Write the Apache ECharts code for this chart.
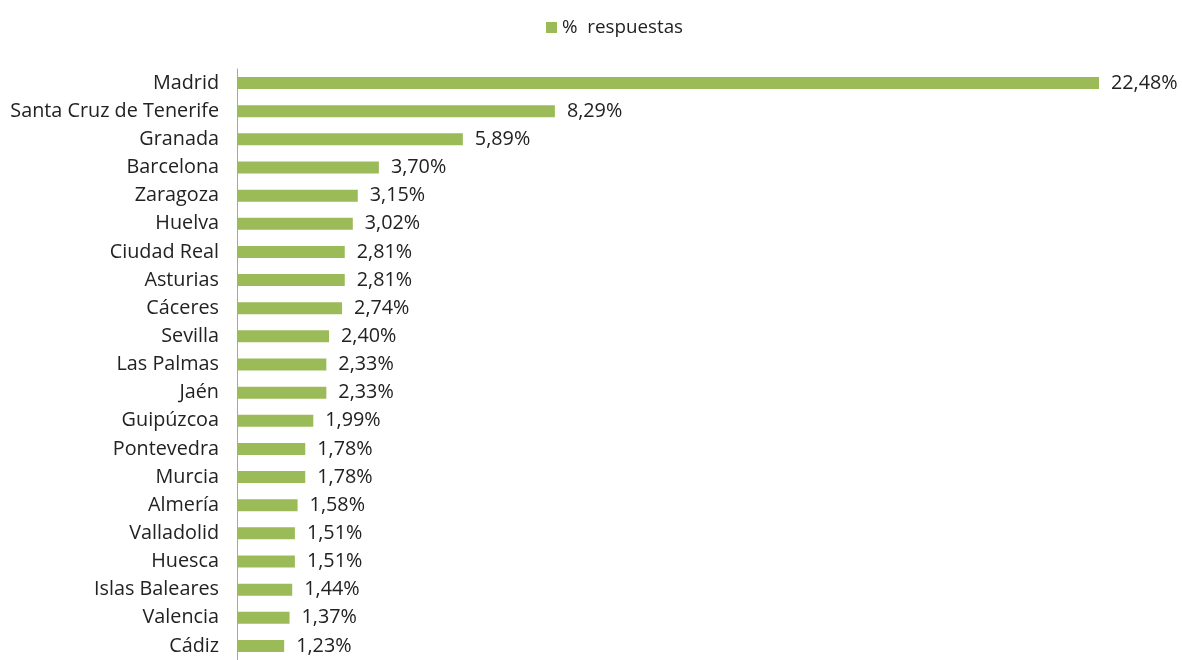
<!DOCTYPE html>
<html>
<head>
<meta charset="utf-8">
<script src="https://cdn.jsdelivr.net/npm/echarts@6/dist/echarts.min.js"></script>
<style>
  html, body { margin: 0; padding: 0; background: #fff; }
  #main { width: 1182px; height: 660px; }
</style>
</head>
<body>
<div id="main"></div>
<script>
// provincias, de arriba a abajo
const provincias = ['Madrid', 'Santa Cruz de Tenerife', 'Granada', 'Barcelona', 'Zaragoza', 'Huelva',
  'Ciudad Real', 'Asturias', 'Cáceres', 'Sevilla', 'Las Palmas', 'Jaén', 'Guipúzcoa', 'Pontevedra',
  'Murcia', 'Almería', 'Valladolid', 'Huesca', 'Islas Baleares', 'Valencia', 'Cádiz'];
const respuestas = [22.48, 8.29, 5.89, 3.70, 3.15, 3.02, 2.81, 2.81, 2.74, 2.40, 2.33, 2.33, 1.99, 1.78,
  1.78, 1.58, 1.51, 1.51, 1.44, 1.37, 1.23];

const fuente = '"Open Sans", sans-serif';
const tam = 19.8;

let myChart = echarts.init(document.getElementById('main'));
let option = {
  backgroundColor: '#fff',
  animation: false,
  legend: {
    show: true,
    data: ['%  respuestas'],
    left: 541,
    top: 13,
    itemWidth: 11,
    itemHeight: 11,
    itemGap: 6,
    icon: 'rect',
    textStyle: { fontFamily: fuente, fontSize: 18.8, color: '#222' }
  },
  grid: {
    left: 237,
    right: 83,
    top: 69,
    bottom: -5,
    containLabel: false
  },
  xAxis: {
    type: 'value',
    min: 0,
    max: 22.48,
    show: false
  },
  yAxis: {
    type: 'category',
    inverse: true,
    data: provincias,
    axisLine: { show: true, lineStyle: { color: '#a6a6a6', width: 1 } },
    axisTick: { show: false },
    axisLabel: { fontFamily: fuente, fontSize: tam, color: '#222', margin: 18 },
    splitLine: { show: false }
  },
  series: [
    {
      name: '%  respuestas',
      type: 'bar',
      data: respuestas,
      barWidth: 12,
      itemStyle: { color: '#9bbb59' },
      label: {
        show: true,
        position: 'right',
        distance: 12,
        fontFamily: fuente,
        fontSize: tam,
        color: '#222',
        formatter: function (p) {
          return p.value.toFixed(2).replace('.', ',') + '%';
        }
      }
    }
  ]
};
myChart.setOption(option);
</script>
</body>
</html>
